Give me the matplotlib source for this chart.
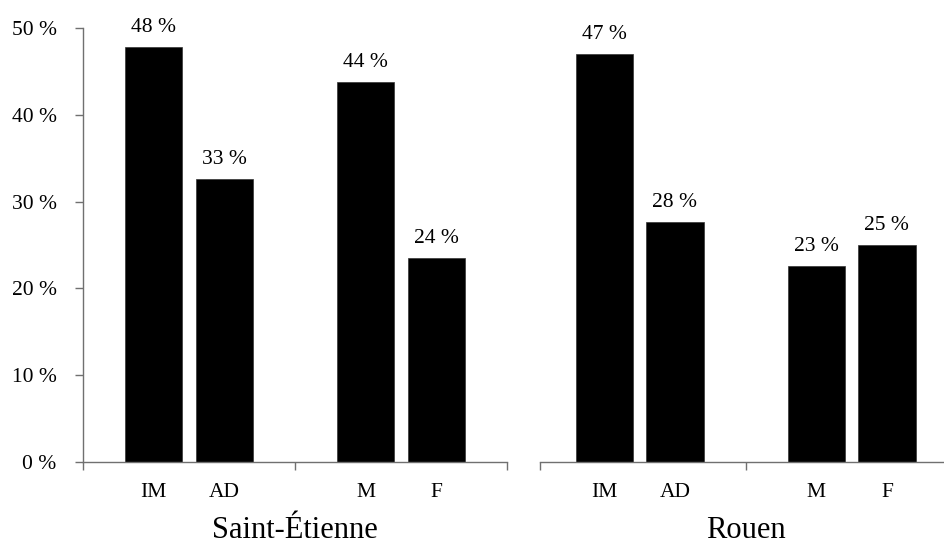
import matplotlib
matplotlib.use("Agg")
import matplotlib.pyplot as plt
from matplotlib.ticker import FixedLocator

plt.rcParams['font.family'] = ['Liberation Serif', 'DejaVu Serif']

categories = ["IM", "AD", "M", "F"]
positions = [1.0, 2.0, 4.0, 5.0]
cities = ["Saint-Étienne", "Rouen"]
values_st_etienne = [47.8, 32.6, 43.8, 23.5]
values_rouen = [47.0, 27.7, 22.6, 25.0]
labels_st_etienne = ["48 %", "33 %", "44 %", "24 %"]
labels_rouen = ["47 %", "28 %", "23 %", "25 %"]
yticks = [0, 10, 20, 30, 40, 50]
ytick_labels = ["0 %", "10 %", "20 %", "30 %", "40 %", "50 %"]

W, H = 945, 545
fig = plt.figure(figsize=(W / 100, H / 100), dpi=100)

spine_col = "#707070"
small_fs = 15.5
title_fs = 22

unit = 212 / 3.0  # px per x unit
y0, y50 = 462, 28
ax_h = (y0 - y50) / H
ax_b = 1 - y0 / H

axL = fig.add_axes([83 / W, ax_b, 424 / W, ax_h])
right_left_px = 540
right_mid_px = 745.6
xmin_r = 3 - (right_mid_px - right_left_px) / unit
right_end_px = right_mid_px + 3 * unit
axR = fig.add_axes([right_left_px / W, ax_b, (right_end_px - right_left_px) / W, ax_h])

panels = [(axL, values_st_etienne, labels_st_etienne, cities[0], 0.0),
          (axR, values_rouen, labels_rouen, cities[1], xmin_r)]

for i, (ax, vals, labs, city, xmin) in enumerate(panels):
    bars = ax.bar(positions, vals, width=0.81, color="black", edgecolor="#333333", linewidth=0.5)
    for b, lab in zip(bars, labs):
        ax.annotate(lab, (b.get_x() + b.get_width() / 2, b.get_height()),
                    xytext=(0, 7), textcoords="offset points",
                    ha="center", va="bottom", fontsize=small_fs)
    ax.set_xlim(xmin, 6)
    ax.set_ylim(0, 50)
    for s in ["top", "right"]:
        ax.spines[s].set_visible(False)
    ax.spines["bottom"].set_color(spine_col)
    ax.spines["bottom"].set_linewidth(1.0)
    ax.spines["left"].set_color(spine_col)
    ax.spines["left"].set_linewidth(1.0)
    ax.xaxis.set_major_locator(FixedLocator([xmin, 3, 6]))
    ax.xaxis.set_minor_locator(FixedLocator(positions))
    ax.set_xticklabels([], minor=False)
    ax.set_xticklabels(categories, minor=True, fontsize=small_fs)
    ax.tick_params(axis="x", which="major", direction="out", length=6, width=1.0,
                   color=spine_col, labelbottom=False)
    ax.tick_params(axis="x", which="minor", length=0, pad=15)
    if i == 0:
        ax.set_yticks(yticks)
        ax.set_yticklabels(ytick_labels, fontsize=small_fs)
        ax.tick_params(axis="y", direction="out", length=6, width=1.0,
                       color=spine_col, pad=13)
    else:
        ax.spines["left"].set_visible(False)
        ax.set_yticks([])
    ax.text(3, -(538 - y0) / (y0 - y50), city, transform=ax.get_xaxis_transform(),
            ha="center", va="baseline", fontsize=title_fs)

fig.savefig("out.png", dpi=100)
